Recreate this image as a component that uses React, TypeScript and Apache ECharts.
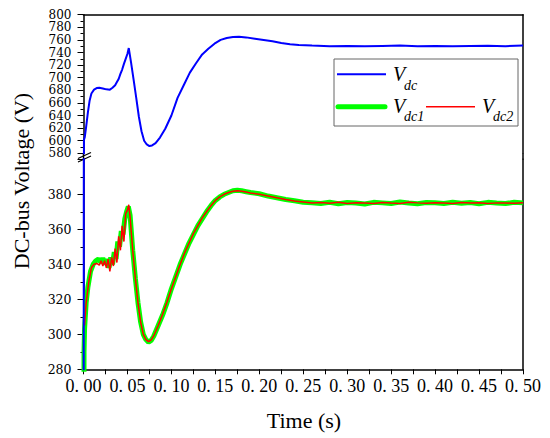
import { useEffect, useRef } from 'react';
import * as echarts from 'echarts';

const FONT = 'Liberation Serif, Times New Roman, serif';
const TICK_FONT = 'DejaVu Serif, serif';

// ---- data ----
const vdcTime = [0, 0.0005, 0.0015, 0.003, 0.005, 0.007, 0.009, 0.012, 0.015, 0.018, 0.022, 0.026, 0.03, 0.033, 0.036, 0.038, 0.04, 0.042, 0.044, 0.046, 0.048, 0.05, 0.0515, 0.054, 0.057, 0.06, 0.063, 0.066, 0.069, 0.072, 0.075, 0.078, 0.082, 0.087, 0.093, 0.1, 0.107, 0.114, 0.121, 0.128, 0.135, 0.142, 0.149, 0.156, 0.163, 0.17, 0.177, 0.185, 0.195, 0.205, 0.215, 0.225, 0.235, 0.245, 0.26, 0.28, 0.3, 0.32, 0.34, 0.36, 0.38, 0.4, 0.42, 0.44, 0.46, 0.48, 0.5];
const vdcValues = [0, 601, 606, 622, 645, 664, 675, 681, 683.5, 684, 683, 681.5, 681, 684, 688, 693, 698, 706, 713, 722, 730, 738, 747, 725, 697, 668, 638, 615, 600, 594, 591.5, 592.5, 596, 605, 619, 640, 668, 688, 708, 723, 737, 746, 754, 760, 763, 764.5, 765, 764, 762, 760, 758, 755, 753, 752, 751, 750, 750.5, 750, 750.5, 751, 750, 750.5, 750, 750.5, 750.8, 750, 751];

const vdc1Time = [0, 0.0006, 0.0012, 0.003, 0.005, 0.008, 0.011, 0.014, 0.017, 0.02, 0.022, 0.025, 0.027, 0.029, 0.031, 0.033, 0.035, 0.037, 0.039, 0.041, 0.043, 0.045, 0.047, 0.049, 0.051, 0.053, 0.056, 0.059, 0.062, 0.065, 0.068, 0.071, 0.074, 0.077, 0.08, 0.085, 0.09, 0.095, 0.1, 0.105, 0.11, 0.115, 0.12, 0.125, 0.13, 0.135, 0.14, 0.145, 0.15, 0.155, 0.16, 0.165, 0.17, 0.175, 0.18, 0.185, 0.19, 0.2, 0.21, 0.22, 0.23, 0.24, 0.25, 0.26, 0.27, 0.28, 0.29, 0.3, 0.31, 0.32, 0.33, 0.34, 0.35, 0.36, 0.37, 0.38, 0.39, 0.4, 0.41, 0.42, 0.43, 0.44, 0.45, 0.46, 0.47, 0.48, 0.49, 0.5];
const vdc1Values = [0, 290, 303, 318, 327, 336, 340, 342, 343, 341, 343.5, 340, 343, 338, 344, 340, 347, 343, 353, 350, 359, 357, 366, 370, 373, 368, 348, 332, 318, 307, 300, 297, 295.5, 296.5, 299, 305, 311, 318, 326, 333, 340, 346, 352, 357, 362, 366, 370, 373.5, 376.5, 378.5, 380, 381, 382, 382.3, 382, 381.5, 381, 380.3, 379, 378, 377, 376.3, 375.5, 375.2, 374.8, 375.5, 374.6, 375.3, 375.0, 374.5, 375.4, 375.1, 374.7, 375.6, 375.0, 374.6, 375.3, 375.2, 374.8, 375.5, 374.9, 375.3, 374.6, 375.4, 375.0, 374.7, 375.5, 375.1];

const vdc2Time = [0.0012, 0.003, 0.006, 0.009, 0.012, 0.015, 0.018, 0.02, 0.022, 0.024, 0.026, 0.028, 0.03, 0.032, 0.034, 0.036, 0.038, 0.04, 0.042, 0.044, 0.046, 0.048, 0.05, 0.0515, 0.053, 0.056, 0.059, 0.062, 0.065, 0.068, 0.071, 0.074, 0.077, 0.08, 0.085, 0.09, 0.095, 0.1, 0.105, 0.11, 0.115, 0.12, 0.125, 0.13, 0.135, 0.14, 0.145, 0.15, 0.155, 0.16, 0.165, 0.17, 0.175, 0.18, 0.185, 0.19, 0.2, 0.21, 0.22, 0.23, 0.24, 0.25, 0.26, 0.27, 0.28, 0.29, 0.3, 0.31, 0.32, 0.33, 0.34, 0.35, 0.36, 0.37, 0.38, 0.39, 0.4, 0.41, 0.42, 0.43, 0.44, 0.45, 0.46, 0.47, 0.48, 0.49, 0.5];
const vdc2Values = [305, 318, 330, 338, 340, 340.5, 339.5, 342, 339, 342, 338, 343, 336, 344, 339, 349, 341, 356, 348, 362, 353, 369, 371, 374, 367, 348, 332, 318, 307, 300, 297, 295.8, 296.8, 299.2, 305, 311.5, 318.5, 326, 333, 340, 346.5, 352, 357.5, 362, 366.5, 370, 373.5, 376.5, 378.5, 380, 381, 381.7, 382, 381.8, 381.3, 380.8, 380, 379, 378, 377, 376.2, 375.6, 375.0, 375.3, 374.9, 375.4, 374.8, 375.2, 375.0, 374.7, 375.3, 375.0, 374.8, 375.4, 375.1, 374.9, 375.2, 375.0, 374.8, 375.3, 375.0, 375.2, 374.8, 375.1, 375.0, 374.9, 375.2];

const upperTicks = { min: 580, max: 800, interval: 20 };
const lowerTicks = { min: 280, max: 400, interval: 20 };
const timeTicks = { min: 0, max: 0.5, interval: 0.025 };

const legendNames = ['V', 'dc', 'dc1', 'dc2'];
const yTitle = 'DC-bus Voltage (V)';
const xTitle = 'Time (s)';

// ---- layout ----
const L = 83.5;
const R = 523;
const UT = 14.7;
const UB = 153.3;
const LT = 159.3;
const LB = 369.3;

const zip = (t: number[], v: number[]) => t.map((x, i) => [x, v[i]]);

export default function App() {
  const ref = useRef<HTMLDivElement>(null);
  useEffect(() => {
    document.body.style.margin = '0';
    const chart = echarts.init(ref.current!, null, { renderer: 'svg' });
    const axisLineStyle = { color: '#000', width: 1.5 };
    const labelBase = { color: '#000', fontFamily: TICK_FONT, fontSize: 12, lineHeight: 12, margin: 12 };
    const yAxisCommon = {
      type: 'value',
      axisLine: { show: true, lineStyle: axisLineStyle },
      axisTick: { show: true, inside: false, length: 6, lineStyle: { color: '#000', width: 1 } },
      minorTick: { show: true, splitNumber: 2, length: 3, lineStyle: { color: '#000', width: 1 } },
      splitLine: { show: false },
      minorSplitLine: { show: false },
    };
    const rightAxis = (gridIndex: number, t: any) => ({
      type: 'value',
      gridIndex,
      position: 'right',
      ...t,
      axisLine: { show: true, lineStyle: axisLineStyle },
      axisTick: { show: false },
      axisLabel: { show: false },
      splitLine: { show: false },
    });
    const option: any = {
      animation: false,
      backgroundColor: '#fff',
      grid: [
        { left: L, width: R - L, top: UT, height: UB - UT },
        { left: L, width: R - L, top: LT, height: LB - LT },
      ],
      xAxis: [
        {
          type: 'value', gridIndex: 0, position: 'top', ...timeTicks,
          axisLine: { show: true, lineStyle: axisLineStyle },
          axisTick: { show: false }, axisLabel: { show: false }, splitLine: { show: false },
        },
        {
          type: 'value', gridIndex: 1, position: 'bottom', ...timeTicks,
          axisLine: { show: true, lineStyle: axisLineStyle },
          axisTick: { show: true, length: 5, lineStyle: { color: '#000', width: 1 } },
          axisLabel: {
            color: '#000', fontFamily: FONT, fontSize: 18, margin: 8, showMinLabel: true, showMaxLabel: true,
            formatter: (v: number) => (Math.round(v * 1000) % 50 === 0 ? v.toFixed(2).replace('.', '. ') : ''),
          },
          splitLine: { show: false },
        },
      ],
      yAxis: [
        { ...yAxisCommon, gridIndex: 0, position: 'left', ...upperTicks, axisLabel: { ...labelBase, showMinLabel: true, showMaxLabel: true } },
        rightAxis(0, upperTicks),
        { ...yAxisCommon, gridIndex: 1, position: 'left', ...lowerTicks, axisLabel: { ...labelBase, fontSize: 12.5, showMinLabel: true, showMaxLabel: false } },
        rightAxis(1, lowerTicks),
      ],
      series: [
        {
          type: 'line', xAxisIndex: 0, yAxisIndex: 0, data: zip(vdcTime, vdcValues),
          showSymbol: false, symbol: 'none', lineStyle: { color: '#0000ff', width: 2 }, z: 3,
        },
        {
          type: 'line', xAxisIndex: 1, yAxisIndex: 2, data: zip(vdc1Time, vdc1Values),
          showSymbol: false, symbol: 'none', lineStyle: { color: '#00ff00', width: 5 }, z: 2,
        },
        {
          type: 'line', xAxisIndex: 1, yAxisIndex: 2, data: zip(vdc2Time, vdc2Values),
          showSymbol: false, symbol: 'none', lineStyle: { color: '#ff0000', width: 1.5 }, z: 3,
        },
        {
          type: 'line', xAxisIndex: 1, yAxisIndex: 2, data: zip(vdcTime, vdcValues),
          showSymbol: false, symbol: 'none', lineStyle: { color: '#0000ff', width: 2 }, z: 4,
        },
      ],
      graphic: [
        // axis gap at break
        { type: 'line', shape: { x1: L, y1: UB, x2: L, y2: LT }, style: { stroke: '#000', lineWidth: 1.5 } },
        { type: 'line', shape: { x1: R, y1: UB, x2: R, y2: LT }, style: { stroke: '#000', lineWidth: 1.5 } },
        // break marks
        { type: 'line', shape: { x1: 78, y1: 158.5, x2: 91, y2: 152.5 }, style: { stroke: '#000', lineWidth: 1.2 } },
        { type: 'line', shape: { x1: 78, y1: 162, x2: 91, y2: 156 }, style: { stroke: '#000', lineWidth: 1.2 } },
        // legend
        { type: 'rect', shape: { x: 334, y: 59, width: 184, height: 67 }, style: { fill: '#fff', stroke: '#666', lineWidth: 1 }, z: 10 },
        { type: 'line', shape: { x1: 337, y1: 74.3, x2: 386, y2: 74.3 }, style: { stroke: '#0000ff', lineWidth: 2 }, z: 11 },
        { type: 'text', x: 393, y: 74, style: { text: legendNames[0], font: `italic 20px ${FONT}`, fill: '#000', textVerticalAlign: 'middle' }, z: 11 },
        { type: 'text', x: 404, y: 85, style: { text: legendNames[1], font: `italic 14px ${FONT}`, fill: '#000', textVerticalAlign: 'middle' }, z: 11 },
        { type: 'line', shape: { x1: 338, y1: 106.7, x2: 385, y2: 106.7 }, style: { stroke: '#00ff00', lineWidth: 5, lineCap: 'round' }, z: 11 },
        { type: 'text', x: 393, y: 106, style: { text: legendNames[0], font: `italic 20px ${FONT}`, fill: '#000', textVerticalAlign: 'middle' }, z: 11 },
        { type: 'text', x: 404, y: 116.5, style: { text: legendNames[2], font: `italic 14px ${FONT}`, fill: '#000', textVerticalAlign: 'middle' }, z: 11 },
        { type: 'line', shape: { x1: 426, y1: 106.7, x2: 475, y2: 106.7 }, style: { stroke: '#ff0000', lineWidth: 1.5 }, z: 11 },
        { type: 'text', x: 482, y: 106, style: { text: legendNames[0], font: `italic 20px ${FONT}`, fill: '#000', textVerticalAlign: 'middle' }, z: 11 },
        { type: 'text', x: 493, y: 116.5, style: { text: legendNames[3], font: `italic 14px ${FONT}`, fill: '#000', textVerticalAlign: 'middle' }, z: 11 },
        // titles
        { type: 'text', x: 21, y: 181, rotation: Math.PI / 2, style: { text: yTitle, font: `22px ${FONT}`, fill: '#000', textAlign: 'center', textVerticalAlign: 'middle' } },
        { type: 'text', x: 304, y: 420, style: { text: xTitle, font: `22px ${FONT}`, fill: '#000', textAlign: 'center', textVerticalAlign: 'middle' } },
      ],
    };
    chart.setOption(option);
    return () => chart.dispose();
  }, []);
  return <div ref={ref} style={{ width: 550, height: 438 }} />;
}
